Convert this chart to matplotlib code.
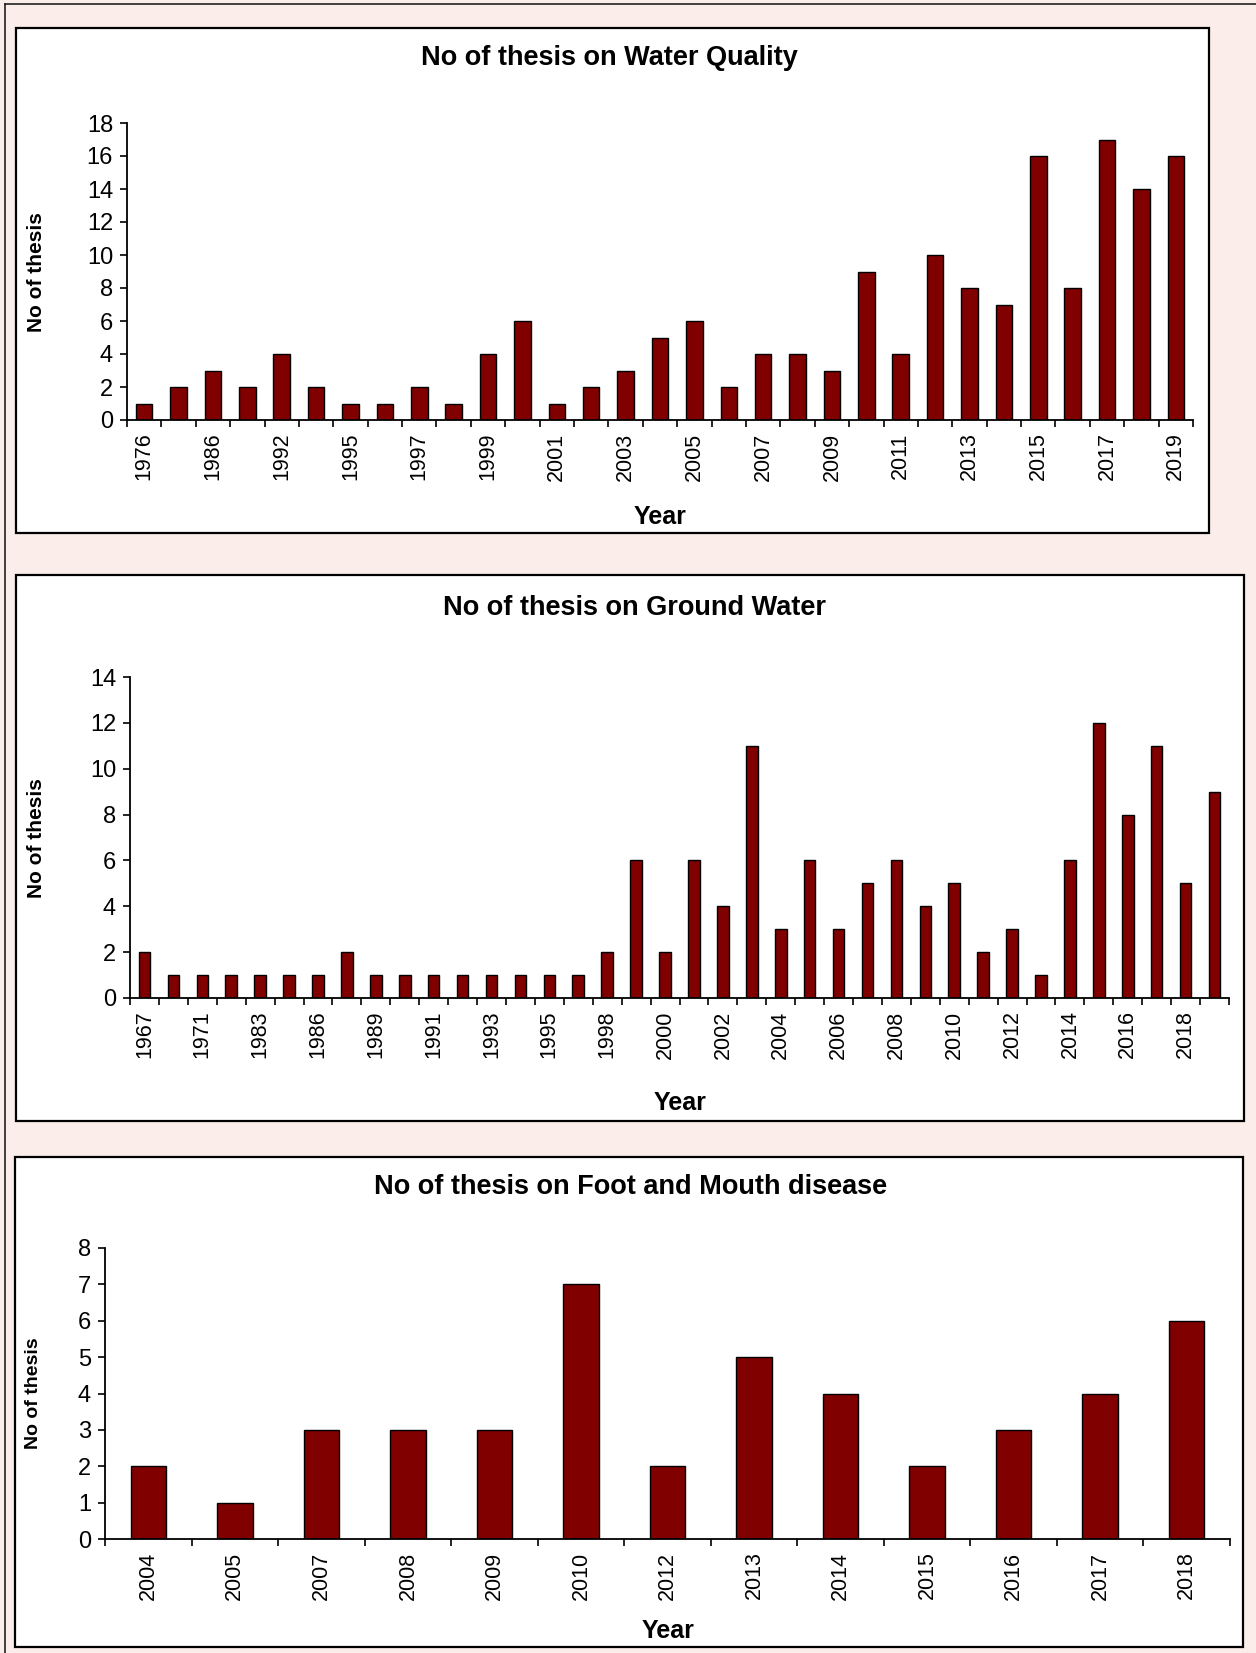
import matplotlib
matplotlib.use('Agg')
import matplotlib.pyplot as plt
from matplotlib.patches import Rectangle
from matplotlib.lines import Line2D

plt.rcParams['font.family'] = ['Liberation Sans', 'DejaVu Sans']

## data ##
wq_years = ['1976', '1980', '1986', '1990', '1992', '1994', '1995', '1996',
            '1997', '1998', '1999', '2000', '2001', '2002', '2003', '2004',
            '2005', '2006', '2007', '2008', '2009', '2010', '2011', '2012',
            '2013', '2014', '2015', '2016', '2017', '2018', '2019']
wq_counts = [1, 2, 3, 2, 4, 2, 1, 1, 2, 1, 4, 6, 1, 2, 3, 5,
             6, 2, 4, 4, 3, 9, 4, 10, 8, 7, 16, 8, 17, 14, 16]

gw_years = ['1967', '1970', '1971', '1980', '1983', '1985', '1986', '1988',
            '1989', '1990', '1991', '1992', '1993', '1994', '1995', '1997',
            '1998', '1999', '2000', '2001', '2002', '2003', '2004', '2005',
            '2006', '2007', '2008', '2009', '2010', '2011', '2012', '2013',
            '2014', '2015', '2016', '2017', '2018', '2019']
gw_counts = [2, 1, 1, 1, 1, 1, 1, 2, 1, 1, 1, 1, 1, 1, 1, 1,
             2, 6, 2, 6, 4, 11, 3, 6, 3, 5, 6, 4, 5, 2, 3, 1,
             6, 12, 8, 11, 5, 9]

fmd_years = ['2004', '2005', '2007', '2008', '2009', '2010', '2012',
             '2013', '2014', '2015', '2016', '2017', '2018']
fmd_counts = [2, 1, 3, 3, 3, 7, 2, 5, 4, 2, 3, 4, 6]

## figure in pixels ##
W, H = 1256, 1653
fig = plt.figure(figsize=(W / 100, H / 100), dpi=100)
fig.patch.set_facecolor('#fbeeea')


def box(x0, y0, x1, y1):
    # pixel box (top-left origin) -> figure fraction rect
    return [x0 / W, 1 - y1 / H, (x1 - x0) / W, (y1 - y0) / H]


def fx(x):
    return x / W


def fy(y):
    return 1 - y / H


# outer frame (left and top edges)
fig.add_artist(Line2D([fx(5), fx(5)], [fy(4), fy(1653)], color='#222222', lw=1.2))
fig.add_artist(Line2D([fx(5), fx(1256)], [fy(4), fy(4)], color='#222222', lw=1.2))

panels = [(16, 28, 1209, 533), (16, 575, 1244, 1121), (15, 1157, 1243, 1647)]
for p in panels:
    r = box(*p)
    fig.add_artist(Rectangle((r[0], r[1]), r[2], r[3], transform=fig.transFigure,
                             facecolor='white', edgecolor='black', lw=1.6, zorder=0))


def bar_chart(rect, years, counts, ymax, ystep, width, step, title, title_xy,
              ylab_xy, xlab_xy, ylab_size=15):
    ax = fig.add_axes(box(*rect))
    ax.set_facecolor('none')
    n = len(counts)
    xs = list(range(n))
    ax.bar(xs, counts, width=width, color='#800000', edgecolor='black', linewidth=1.0)
    ax.set_xlim(-0.5, n - 0.5)
    ax.set_ylim(0, ymax)
    ax.set_yticks(range(0, ymax + 1, ystep))
    ax.set_xticks(xs[::step])
    ax.set_xticklabels(years[::step], rotation=90)
    ax.set_xticks([i - 0.5 for i in range(n + 1)], minor=True)
    ax.tick_params(axis='x', which='major', length=0, pad=9, labelsize=15.5)
    ax.tick_params(axis='x', which='minor', length=5, width=1.2, direction='out')
    ax.tick_params(axis='y', length=5, width=1.2, pad=5, labelsize=17)
    for s in ['top', 'right']:
        ax.spines[s].set_visible(False)
    for s in ['left', 'bottom']:
        ax.spines[s].set_linewidth(1.3)
    fig.text(fx(title_xy[0]), fy(title_xy[1]), title, ha='center', va='center',
             fontsize=19.5, fontweight='bold')
    fig.text(fx(ylab_xy[0]), fy(ylab_xy[1]), 'No of thesis', rotation=90,
             ha='center', va='center', fontsize=ylab_size, fontweight='bold')
    fig.text(fx(xlab_xy[0]), fy(xlab_xy[1]), 'Year', ha='center', va='center',
             fontsize=18, fontweight='bold')
    return ax


ax1 = bar_chart((127, 123, 1193, 420), wq_years, wq_counts, 18, 2, 0.48, 2,
                'No of thesis on Water Quality', (609, 58), (37, 272), (660, 517))
ax2 = bar_chart((130, 677, 1229, 998), gw_years, gw_counts, 14, 2, 0.40, 2,
                'No of thesis on Ground Water', (634, 608), (37, 838), (680, 1103))
ax3 = bar_chart((105, 1248, 1230, 1539), fmd_years, fmd_counts, 8, 1, 0.41, 1,
                'No of thesis on Foot and Mouth disease', (631, 1187), (34, 1393),
                (668, 1631), ylab_size=14)

fig.savefig('out.png', dpi=100, facecolor=fig.get_facecolor())
